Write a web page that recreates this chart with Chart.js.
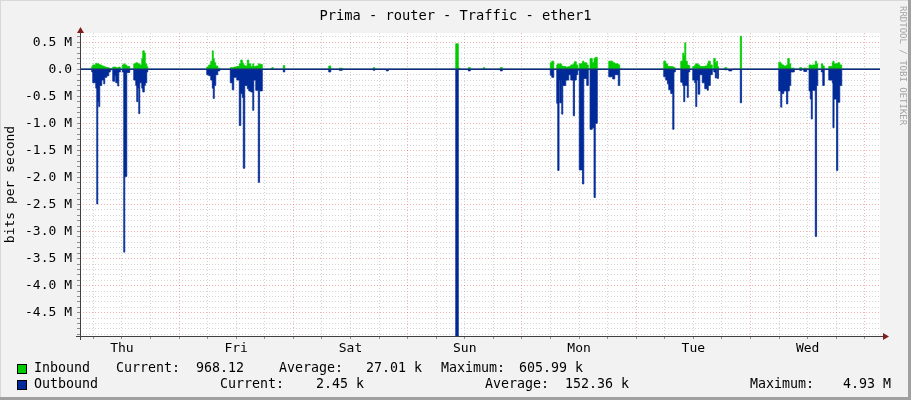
<!DOCTYPE html>
<html>
<head>
<meta charset="utf-8">
<title>Prima - router - Traffic - ether1</title>
<script src="https://cdn.jsdelivr.net/npm/chart.js@4.4.1/dist/chart.umd.min.js"></script>
<style>
  html, body { margin: 0; padding: 0; background: #f2f2f2; }
  #wrap { position: relative; width: 911px; height: 400px; overflow: hidden; }
  #chart { position: absolute; left: 0; top: 0; }
  .txt { position: absolute; font-family: 'DejaVu Sans Mono', monospace; font-size: 13.3px; color: #000; white-space: pre; line-height: 16px; }
  #title { left: 0; width: 911px; top: 7px; text-align: center; font-size: 13.7px; }
  .swatch { position: absolute; width: 8px; height: 8px; border: 1px solid #000; }
</style>
</head>
<body>
<div id="wrap">
  <canvas id="chart" width="911" height="400"></canvas>
  <div id="title" class="txt">Prima - router - Traffic - ether1</div>
  <div id="legend"></div>
</div>
<script>
// Time axis in hours since Thursday 00:00, values in Mbit/s
const hours = [
  // Thu
  3.36, 5.67, 5.88, 6.51, 6.72, 6.93, 7.14, 7.35, 7.77, 8.19, 8.40, 8.82, 9.24, 9.56, 9.87,
  10.08, 10.50, 10.71, 11.13, 11.34, 11.66, 12.08, 12.39, 12.60, 13.02, 13.65,
  14.49, 14.91, 15.12, 15.33, 15.54, 15.75, 16.17, 16.38, 16.70, 16.91, 17.22, 17.43,
  // Fri
  29.82, 30.24, 30.66, 30.98, 31.19, 31.40, 31.71, 32.13, 32.55,
  34.76, 35.18, 35.49, 36.12, 36.65, 36.96, 37.28, 37.49, 37.80, 38.33, 38.64, 39.06, 39.48, 39.69, 40.11, 40.64, 40.91, 41.48,
  43.47, 43.79, 45.89, 46.20,
  // Sat
  55.44, 55.86, 57.65, 58.28, 64.79, 65.10, 67.52, 67.94,
  // Sun
  82.11, 82.64, 82.95, 84.74, 85.16, 87.89, 88.20, 91.46, 91.88,
  // Mon
  101.96, 102.27, 102.69, 103.32, 103.53, 103.80, 103.95, 104.27, 104.37, 104.58, 105.21, 105.84,
  106.26, 106.79, 107.04, 107.42, 107.73, 108.05, 108.72, 108.99, 109.62, 109.94,
  110.31, 110.78, 111.15, 111.41, 111.83, 114.24, 115.08, 115.50, 116.24, 116.55,
  // Tue
  125.79, 126.21, 126.57, 126.84, 127.26, 127.68, 127.93, 128.21,
  129.36, 129.78, 129.99, 130.20, 130.41, 130.73, 130.94, 131.25,
  131.88, 132.30, 132.51, 132.72, 133.00, 133.35, 133.88, 134.40, 134.93, 135.14, 135.56, 135.98,
  136.29, 136.61, 136.92, 137.07, 137.28, 138.60, 139.02, 139.44, 140.07, 141.86, 142.13,
  // Wed
  149.94, 150.36, 150.57, 150.99, 151.58, 151.83, 152.15, 152.46, 153.20,
  154.35, 154.77, 155.19, 155.82,
  156.30, 156.56, 156.77, 156.98, 157.61, 157.88, 158.13, 158.87, 159.18, 159.50,
  160.44, 161.18, 161.32, 161.55, 162.08, 162.33, 162.75, 163.17, 171.2
];

const inbound = [
  // Thu
  0, 0.05, 0.08, 0.11, 0.10, 0.10, 0.09, 0.08, 0.06, 0.05, 0.04, 0.03, 0.02, 0.01, 0,
  0.04, 0.04, 0.03, 0.03, 0.04, 0, 0.08, 0.10, 0.08, 0.05, 0,
  0.10, 0.12, 0.12, 0.10, 0.10, 0.08, 0.20, 0.34, 0.30, 0.10, 0.05, 0,
  // Fri
  0.04, 0.08, 0.15, 0.34, 0.20, 0.12, 0.06, 0.02, 0,
  0.03, 0.03, 0.04, 0.05, 0.10, 0.17, 0.12, 0.08, 0.06, 0.17, 0.10, 0.05, 0.10, 0.05, 0.06, 0.10, 0.09, 0,
  0.03, 0, 0.07, 0,
  // Sat
  0.06, 0, 0.02, 0, 0.03, 0, 0, 0,
  // Sun
  0.47, 0.02, 0, 0.03, 0, 0.03, 0, 0.03, 0,
  // Mon
  0.12, 0.15, 0, 0.08, 0.10, 0.09, 0.10, 0.08, 0.06, 0.05, 0.04, 0.05,
  0.08, 0.10, 0.14, 0.08, 0.02, 0.10, 0.15, 0.12, 0.08, 0,
  0.20, 0.12, 0.20, 0.22, 0, 0.15, 0.12, 0.10, 0.08, 0,
  // Tue
  0.15, 0.10, 0.06, 0.05, 0.05, 0.04, 0.03, 0,
  0.15, 0.30, 0.25, 0.49, 0.15, 0.08, 0.07, 0,
  0.05, 0.08, 0.10, 0.10, 0.08, 0.05, 0.05, 0.06, 0.10, 0.15, 0.08, 0,
  0.20, 0.12, 0.15, 0.05, 0, 0.03, 0, 0, 0, 0.61, 0,
  // Wed
  0.13, 0.10, 0.08, 0.06, 0.08, 0.20, 0.10, 0.02, 0,
  0.03, 0, 0.02, 0,
  0.08, 0.08, 0.06, 0.08, 0.15, 0.10, 0, 0.10, 0.06, 0,
  0.05, 0.12, 0.15, 0.10, 0.10, 0.12, 0.08, 0, 0
];

const outbound = [
  // Thu
  0, 0.05, 0.25, 0.35, 2.49, 0.60, 0.69, 0.30, 0.20, 0.27, 0.15, 0.12, 0.05, 0.01, 0,
  0.22, 0.12, 0.25, 0.31, 0.05, 0, 0.05, 3.38, 1.98, 0.06, 0,
  0.20, 0.30, 0.60, 0.35, 0.82, 0.25, 0.35, 0.42, 0.30, 0.25, 0.05, 0,
  // Fri
  0.10, 0.12, 0.20, 0.35, 0.54, 0.30, 0.10, 0.03, 0,
  0.25, 0.38, 0.15, 0.20, 1.04, 0.45, 0.52, 1.83, 0.30, 0.36, 0.40, 0.42, 0.76, 0.20, 0.39, 2.09, 0.40, 0,
  0, 0, 0.05, 0,
  // Sat
  0.05, 0, 0.02, 0, 0.02, 0, 0.03, 0,
  // Sun
  4.93, 0, 0, 0.03, 0, 0, 0, 0.03, 0,
  // Mon
  0.11, 0.15, 0, 0.63, 1.87, 0.20, 0.62, 0.20, 0.83, 0.30, 0.20, 0.10,
  0.20, 0.86, 0.20, 0.10, 0.02, 1.86, 2.12, 0.17, 0.30, 0,
  1.11, 1.08, 2.37, 1.00, 0, 0.14, 0.18, 0.10, 0.30, 0,
  // Tue
  0.14, 0.20, 0.27, 0.38, 0.45, 1.11, 0.05, 0,
  0.24, 0.30, 0.60, 0.30, 0.30, 0.52, 0.05, 0,
  0.20, 0.25, 0.69, 0.20, 0.46, 0.10, 0.25, 0.36, 0.39, 0.30, 0.10, 0,
  0.05, 0.16, 0.02, 0.17, 0, 0.01, 0, 0.03, 0, 0.62, 0,
  // Wed
  0.40, 0.70, 0.45, 0.40, 0.64, 0.40, 0.30, 0.05, 0,
  0.02, 0, 0.04, 0,
  0.40, 0.55, 0.92, 0.39, 3.09, 0.30, 0, 0.05, 0.30, 0,
  0.20, 0.25, 1.08, 0.55, 1.87, 0.61, 0.30, 0, 0
];

// Axis labels
const dayNames = ['Thu', 'Fri', 'Sat', 'Sun', 'Mon', 'Tue', 'Wed'];
const yTickValues = [0.5, 0, -0.5, -1, -1.5, -2, -2.5, -3, -3.5, -4, -4.5];
const yTickLabels = ['0.5 M', '0.0', '-0.5 M', '-1.0 M', '-1.5 M', '-2.0 M', '-2.5 M', '-3.0 M', '-3.5 M', '-4.0 M', '-4.5 M'];

// Legend text
const legendNames = ['Inbound', 'Outbound'];
const statLabels = ['Current:', 'Average:', 'Maximum:'];
const inboundStats = ['968.12', '27.01 k', '605.99 k'];
const outboundStats = ['2.45 k', '152.36 k', '4.93 M'];

const IN_COLOR = '#00cc00';
const OUT_COLOR = '#002a97';
const MINOR_GRID = 'rgba(150,150,150,0.42)';
const MAJOR_GRID = 'rgba(235,80,80,0.45)';
const axisFont = { family: "'DejaVu Sans Mono', monospace", size: 13 };

// grid positions: every 6 hours, every 0.1 M
const hourTicks = [];
for (let h = 6; h <= 168; h += 6) hourTicks.push(h);
const yGrid = [];
for (let i = -49; i <= 6; i++) yGrid.push(i / 10);

function buildLegend() {
  const legend = document.getElementById('legend');
  const rows = [
    { top: 360, color: IN_COLOR, stats: inboundStats, labelX: [116, 279, 441], valueX: [196, 366, 519] },
    { top: 376, color: OUT_COLOR, stats: outboundStats, labelX: [220, 485, 750], valueX: [316, 565, 843] }
  ];
  rows.forEach((row, r) => {
    const sw = document.createElement('div');
    sw.className = 'swatch';
    sw.style.left = '17px';
    sw.style.top = (row.top + 4) + 'px';
    sw.style.background = row.color;
    legend.appendChild(sw);

    const add = (text, x) => {
      const s = document.createElement('div');
      s.className = 'txt';
      s.textContent = text;
      s.style.left = x + 'px';
      s.style.top = row.top + 'px';
      legend.appendChild(s);
    };
    add(legendNames[r], 34);
    statLabels.forEach((lab, i) => {
      add(lab, row.labelX[i]);
      add(row.stats[i], row.valueX[i]);
    });
  });
}

// background, frame, zero line, axes, arrows, watermark
const rrdFrame = {
  id: 'rrdFrame',
  beforeDraw(chart) {
    const { ctx, width, height, chartArea: a } = chart;
    ctx.save();
    ctx.fillStyle = '#f2f2f2';
    ctx.fillRect(0, 0, width, height);
    ctx.fillStyle = '#d8d8d8';
    ctx.fillRect(0, 0, width, 1);
    ctx.fillRect(0, 0, 1, height);
    ctx.fillStyle = '#a0a0a0';
    ctx.fillRect(0, height - 3, width, 3);
    ctx.fillRect(width - 3, 0, 3, height);
    ctx.fillStyle = '#ffffff';
    ctx.fillRect(a.left, a.top, a.right - a.left, a.bottom - a.top);
    ctx.restore();
  },
  afterDatasetsDraw(chart) {
    const { ctx, chartArea: a } = chart;
    const y0 = chart.scales.y.getPixelForValue(0);
    ctx.save();
    ctx.strokeStyle = '#142a80';
    ctx.lineWidth = 1.6;
    ctx.beginPath();
    ctx.moveTo(a.left, y0);
    ctx.lineTo(a.right, y0);
    ctx.stroke();
    ctx.restore();
  },
  afterDraw(chart) {
    const { ctx, chartArea: a } = chart;
    ctx.save();
    ctx.strokeStyle = '#404040';
    ctx.lineWidth = 1;
    ctx.beginPath();
    ctx.moveTo(a.left + 0.5, a.bottom + 4);
    ctx.lineTo(a.left + 0.5, a.top - 1);
    ctx.moveTo(a.left - 4, a.bottom + 0.5);
    ctx.lineTo(a.right + 4, a.bottom + 0.5);
    ctx.stroke();

    ctx.fillStyle = '#7f1d1d';
    ctx.beginPath();
    ctx.moveTo(a.left + 0.5, a.top - 6);
    ctx.lineTo(a.left - 3, a.top);
    ctx.lineTo(a.left + 4, a.top);
    ctx.closePath();
    ctx.fill();
    ctx.beginPath();
    ctx.moveTo(a.right + 9, a.bottom + 0.5);
    ctx.lineTo(a.right + 3, a.bottom - 3);
    ctx.lineTo(a.right + 3, a.bottom + 4);
    ctx.closePath();
    ctx.fill();

    ctx.translate(902, 6);
    ctx.rotate(Math.PI / 2);
    ctx.fillStyle = '#a4a4a4';
    ctx.font = "9px 'DejaVu Sans Mono', monospace";
    ctx.textBaseline = 'middle';
    ctx.fillText('RRDTOOL / TOBI OETIKER', 0, 0);
    ctx.restore();
  }
};

function areaDataset(label, values, sign, color) {
  return {
    label: label,
    data: hours.map((h, i) => ({ x: h, y: sign * values[i] })),
    stepped: true,
    fill: 'origin',
    backgroundColor: color,
    borderColor: color,
    borderWidth: 0.8,
    pointRadius: 0,
    pointHoverRadius: 0
  };
}

buildLegend();

new Chart(document.getElementById('chart').getContext('2d'), {
  type: 'line',
  data: {
    datasets: [
      areaDataset('Inbound', inbound, 1, IN_COLOR),
      areaDataset('Outbound', outbound, -1, OUT_COLOR)
    ]
  },
  options: {
    responsive: false,
    animation: false,
    events: [],
    layout: { padding: { top: 33, right: 31, left: 0, bottom: 0 } },
    plugins: {
      legend: { display: false },
      tooltip: { enabled: false },
      title: { display: false }
    },
    scales: {
      x: {
        type: 'linear',
        min: 3.2,
        max: 171.2,
        bounds: 'data',
        afterBuildTicks: s => { s.ticks = hourTicks.map(v => ({ value: v })); },
        afterFit: s => { s.height = 64; },
        ticks: {
          autoSkip: false,
          maxRotation: 0,
          padding: 2,
          color: '#000',
          font: axisFont,
          callback: v => (v % 24 === 12 ? dayNames[(v - 12) / 24] : '')
        },
        grid: {
          color: c => (c.tick && c.tick.value % 24 === 0 ? MAJOR_GRID : MINOR_GRID),
          tickLength: 3,
          tickColor: '#8c8c8c'
        },
        border: { display: false, dash: [1, 2] }
      },
      y: {
        min: -4.93,
        max: 0.67,
        bounds: 'data',
        afterBuildTicks: s => { s.ticks = yGrid.map(v => ({ value: v })); },
        afterFit: s => { s.width = 80; },
        ticks: {
          autoSkip: false,
          padding: 5,
          color: '#000',
          font: axisFont,
          callback: v => {
            const i = yTickValues.indexOf(v);
            return i >= 0 ? yTickLabels[i] : '';
          }
        },
        grid: {
          color: c => (c.tick && Math.round(c.tick.value * 10) % 5 === 0 ? MAJOR_GRID : MINOR_GRID),
          tickLength: 3,
          tickColor: '#8c8c8c'
        },
        border: { display: false, dash: [1, 2] },
        title: {
          display: true,
          text: 'bits per second',
          color: '#000',
          font: axisFont,
          padding: { top: 3, bottom: 0 }
        }
      }
    }
  },
  plugins: [rrdFrame]
});
</script>
</body>
</html>
